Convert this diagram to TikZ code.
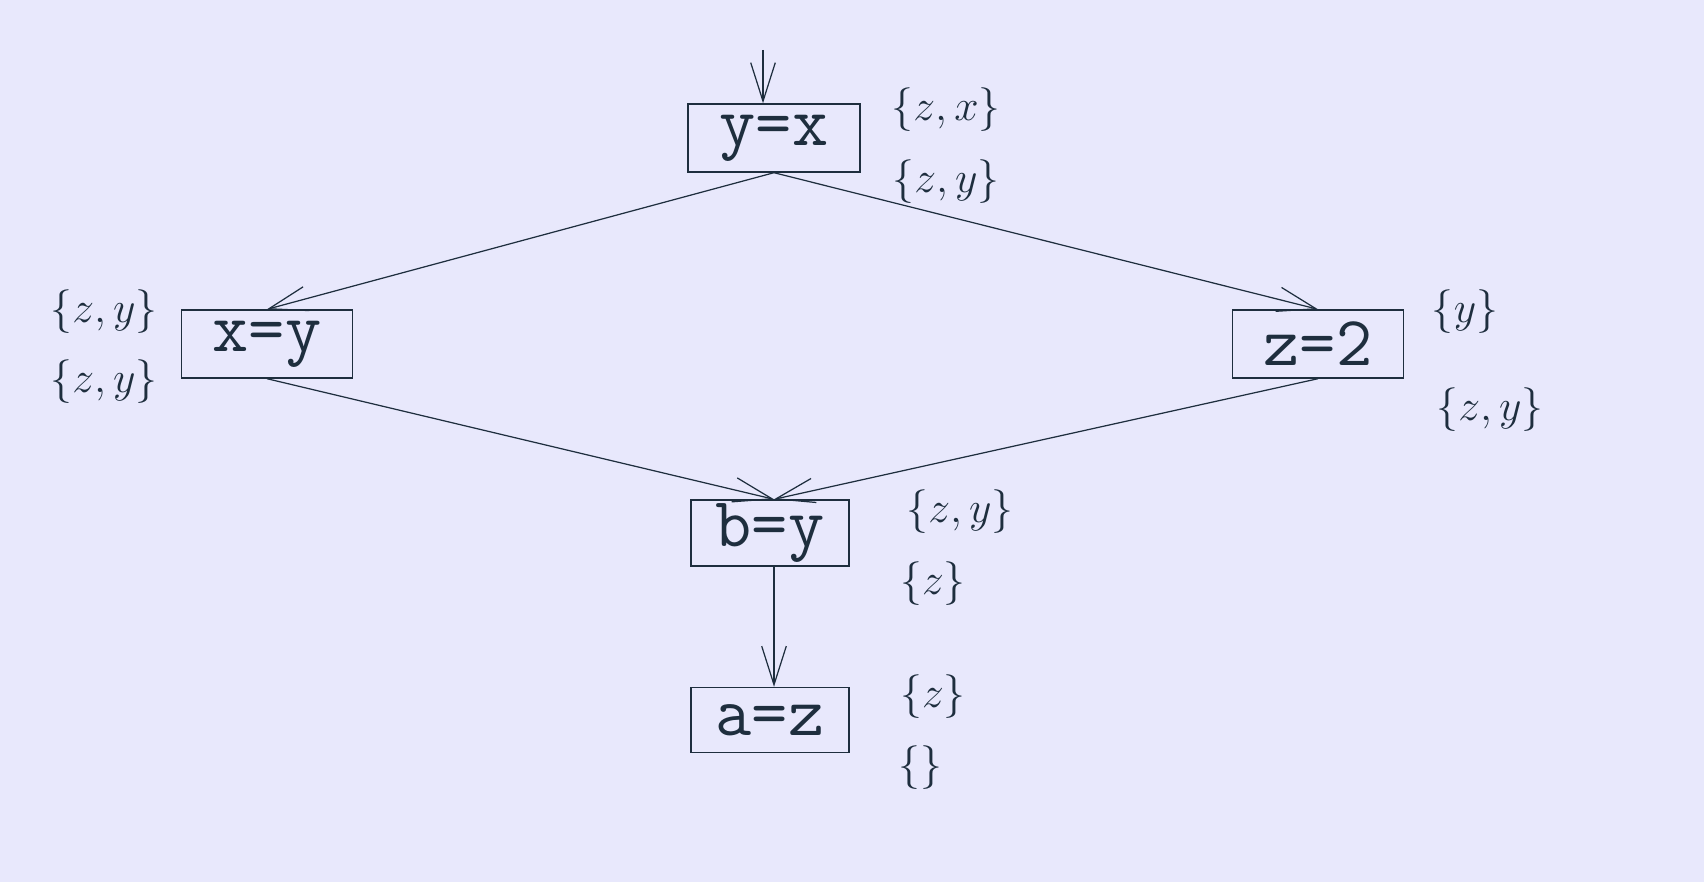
\documentclass[tikz,border=0pt]{standalone}
\usetikzlibrary{arrows.meta}
\definecolor{bg}{HTML}{E8E8FC}
\definecolor{ink}{HTML}{1E2E3E}
\begin{document}
\begin{tikzpicture}[x=0.02cm,y=-0.02cm,
  box/.style={draw=ink,line width=0.8pt,inner sep=0pt,text=ink,font=\fontsize{40}{44}\selectfont\ttfamily},
  lab/.style={text=ink,inner sep=0pt,font=\fontsize{40}{44}\selectfont},
  edge/.style={draw=ink,line width=0.7pt,-{Straight Barb[length=22pt,width=14pt,line width=0.7pt]}}]
\fill[bg] (0,0) rectangle (1704,882);
\useasboundingbox (0,0) rectangle (1704,882);
\node[box,minimum width=172*0.02cm,minimum height=68*0.02cm] (yx) at (774,138) {y=x};
\node[box,minimum width=171*0.02cm,minimum height=68*0.02cm] (xy) at (267,344) {x=y};
\node[box,minimum width=171*0.02cm,minimum height=68*0.02cm] (z2) at (1318,344) {z=2};
\node[box,minimum width=158*0.02cm,minimum height=66*0.02cm] (by) at (770,533) {b=y};
\node[box,minimum width=158*0.02cm,minimum height=65*0.02cm] (az) at (770,720) {a=z};
\coordinate (in) at (763,50);
\draw[edge] (in) -- (in |- yx.north);
\draw[edge] (yx.south) -- (xy.north);
\draw[edge] (yx.south) -- (z2.north);
\draw[edge] (xy.south) -- ([xshift=4*0.02cm]by.north);
\draw[edge] (z2.south) -- ([xshift=4*0.02cm]by.north);
\draw[edge] ([xshift=4*0.02cm]by.south) -- ([xshift=4*0.02cm]az.north);
\node[lab] (l1) at (946,110) {$\{z,x\}$};
\node[lab] (l2) at (946,182) {$\{z,y\}$};
\node[lab] (l3) at (104,312) {$\{z,y\}$};
\node[lab] (l4) at (104,382) {$\{z,y\}$};
\node[lab] (l5) at (1465,312) {$\{y\}$};
\node[lab] (l6) at (1490,410) {$\{z,y\}$};
\node[lab] (l7) at (960,512) {$\{z,y\}$};
\node[lab] (l8) at (933,584) {$\{z\}$};
\node[lab] (l9) at (933,697) {$\{z\}$};
\node[lab] (l10) at (920,768) {$\{\}$};
\end{tikzpicture}
\end{document}
